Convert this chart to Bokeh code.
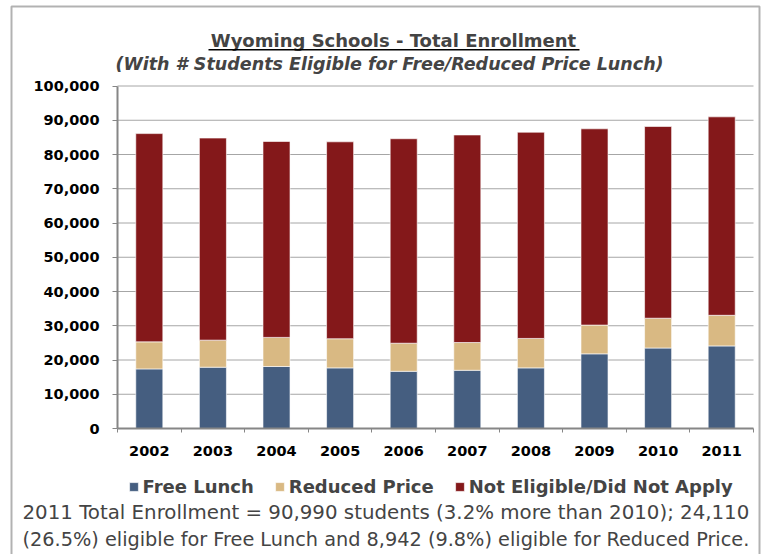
from bokeh.plotting import figure
from bokeh.models import (Legend, LegendItem, Label, BoxAnnotation, NumeralTickFormatter,
                          FixedTicker, ColumnDataSource, Range1d, LinearAxis)
from bokeh.embed import file_html
from bokeh.resources import INLINE

years = ["2002", "2003", "2004", "2005", "2006", "2007", "2008", "2009", "2010", "2011"]
free_lunch = [17400, 17900, 18100, 17700, 16700, 17000, 17700, 21800, 23500, 24110]
reduced_price = [7900, 7900, 8500, 8500, 8200, 8100, 8600, 8400, 8700, 8942]
total_enrollment = [86100, 84800, 83800, 83700, 84600, 85700, 86500, 87500, 88170, 90990]
not_eligible = [t - f - r for t, f, r in zip(total_enrollment, free_lunch, reduced_price)]
y_ticks = list(range(0, 100001, 10000))
series = ["Free Lunch", "Reduced Price", "Not Eligible/Did Not Apply"]
colors = ["#455E80", "#D9B983", "#84181A"]

FONT = "DejaVu Sans"
W, H = 762, 554
# plot-area placement on the canvas (pixels)
PL, PR, PT, PB = 117, 753, 85.5, 428
n = len(years)
ymax = y_ticks[-1]
xs = (PR - PL) / n              # px per category
ys = (PB - PT) / ymax           # px per student

x_range = Range1d(-PL / xs, (W - PL) / xs)
y_range = Range1d(-(H - PB) / ys, PB / ys)

xpos = [i + 0.5 for i in range(n)]
src = ColumnDataSource(dict(x=xpos, free=free_lunch, reduced=reduced_price, noel=not_eligible))

p = figure(x_range=x_range, y_range=y_range, width=W, height=H,
           min_border=0, x_axis_location=None, y_axis_location=None,
           output_backend="svg", toolbar_location=None, tools="")
p.outline_line_color = None
p.grid.visible = False

xaxis = LinearAxis(fixed_location=0, bounds=(0, n))
yaxis = LinearAxis(fixed_location=0, bounds=(0, ymax))
p.add_layout(xaxis, "below")
p.add_layout(yaxis, "left")

# horizontal gridlines at the y ticks, across the plot area only
p.segment(x0=0, x1=n, y0=y_ticks[1:], y1=y_ticks[1:], line_color="#A6A6A6", line_width=1)

rs = p.vbar_stack(["free", "reduced", "noel"], x="x", width=0.425, source=src,
                  color=colors, line_color="white", line_alpha=0.6, line_width=1)

yaxis.ticker = FixedTicker(ticks=y_ticks)
yaxis.formatter = NumeralTickFormatter(format="0,0")
xaxis.ticker = FixedTicker(ticks=xpos, minor_ticks=list(range(n + 1)))
xaxis.major_label_overrides = {x: y for x, y in zip(xpos, years)}
for ax in (xaxis, yaxis):
    ax.axis_line_color = "#868686"
    ax.axis_line_width = 2
    ax.major_tick_line_color = "#868686"
    ax.minor_tick_line_color = "#868686"
    ax.major_label_text_font = FONT
    ax.major_label_text_font_style = "bold"
    ax.major_label_text_font_size = "14.5px"
    ax.major_label_text_color = "black"
yaxis.major_tick_out = 5
yaxis.major_tick_in = 0
yaxis.minor_tick_line_color = None
yaxis.major_label_standoff = 13
xaxis.major_tick_out = 0
xaxis.major_tick_in = 0
xaxis.minor_tick_out = 4
xaxis.minor_tick_in = 0
xaxis.major_label_standoff = 13

def fy(py):  # canvas y (from top) -> screen y measured upwards from the frame bottom
    return H - py

legend = Legend(items=[LegendItem(label=s, renderers=[r]) for s, r in zip(series, rs)],
                orientation="horizontal", location=(127.5, fy(497)),
                label_text_font=FONT, label_text_font_style="bold", label_text_font_size="18px",
                glyph_width=11, glyph_height=11, spacing=20, label_standoff=4, label_height=20,
                background_fill_alpha=0, border_line_color=None, padding=0, margin=0)
p.add_layout(legend, "center")

title = Label(x=393, y=fy(40), x_units="screen", y_units="screen",
              text="Wyoming Schools - Total Enrollment",
              text_font=FONT, text_font_style="bold", text_font_size="18px", text_align="center",
              text_baseline="alphabetic")
underline = BoxAnnotation(left=208, right=579, top=fy(48.5), bottom=fy(50),
                          left_units="screen", right_units="screen", top_units="screen",
                          bottom_units="screen", fill_color="black", fill_alpha=1, line_color=None)
sub = Label(x=389, y=fy(63), x_units="screen", y_units="screen",
            text="(With # Students Eligible for Free/Reduced Price Lunch)",
            text_font=FONT, text_font_style="bold italic", text_font_size="17.5px", text_align="center",
            text_baseline="alphabetic")
foot1 = Label(x=22, y=fy(512), x_units="screen", y_units="screen",
              text="2011 Total Enrollment = 90,990 students (3.2% more than 2010); 24,110",
              text_font=FONT, text_font_size="19.8px", text_baseline="alphabetic")
foot2 = Label(x=22, y=fy(539), x_units="screen", y_units="screen",
              text="(26.5%) eligible for Free Lunch and 8,942 (9.8%) eligible for Reduced Price.",
              text_font=FONT, text_font_size="19.3px", text_baseline="alphabetic")
border = BoxAnnotation(left=11, right=759, top=fy(6), bottom=-20,
                       left_units="screen", right_units="screen", top_units="screen",
                       bottom_units="screen", fill_alpha=0, line_color="black", line_width=2)
for a in (title, underline, sub, foot1, foot2, border):
    p.add_layout(a)

open("out.html", "w").write(file_html(p, INLINE))
